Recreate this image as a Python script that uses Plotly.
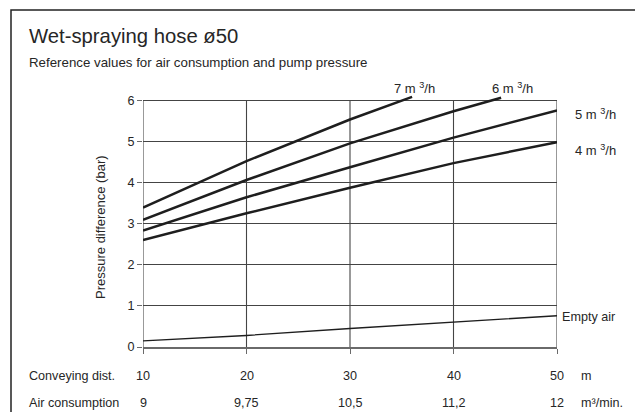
import plotly.graph_objects as go

# ---- data ----
dist_ticks = [10, 20, 30, 40, 50]
air_labels = ["9", "9,75", "10,5", "11,2", "12"]
y_ticks = [0, 1, 2, 3, 4, 5, 6]

x_7 = [10, 20, 30, 36]
y_7 = [3.39, 4.52, 5.53, 6.08]
x_6 = [10, 20, 30, 40, 44.6]
y_6 = [3.09, 4.06, 4.95, 5.73, 6.06]
x_5 = [10, 20, 30, 40, 50]
y_5 = [2.83, 3.64, 4.37, 5.09, 5.75]
x_4 = [10, 20, 30, 40, 50]
y_4 = [2.60, 3.25, 3.87, 4.47, 4.98]
x_air = [10, 20, 30, 40, 50]
y_air = [0.15, 0.28, 0.45, 0.60, 0.76]

series = [
    ("7 m <sup>3</sup>/h", x_7, y_7),
    ("6 m <sup>3</sup>/h", x_6, y_6),
    ("5 m <sup>3</sup>/h", x_5, y_5),
    ("4 m <sup>3</sup>/h", x_4, y_4),
]

# ---- layout geometry (pixels) ----
W, H = 635, 412
ML, MR, MT, MB = 143, 78, 94, 65
PW, PH = W - ML - MR, H - MT - MB


def px(x):
    return (x - ML) / PW


def py(y):
    return (H - MB - y) / PH


FONT = "Liberation Sans, Arial, sans-serif"
TXT = "#262626"
FS = 12.6

fig = go.Figure()
for name, xs, ys in series:
    fig.add_trace(go.Scatter(x=xs, y=ys, mode="lines", name=name,
                             line=dict(color="#1e1e1e", width=2.5),
                             showlegend=False, hoverinfo="skip"))
fig.add_trace(go.Scatter(x=x_air, y=y_air, mode="lines", name="Empty air",
                         line=dict(color="#1e1e1e", width=1.3),
                         showlegend=False, hoverinfo="skip"))

shapes = []
# vertical grid lines (clipped to 0..6)
for xv in dist_ticks:
    shapes.append(dict(type="line", xref="x", yref="y", x0=xv, x1=xv,
                       y0=0, y1=6, line=dict(color="#444444", width=1.1),
                       layer="below"))
# frame around chart
shapes.append(dict(type="rect", xref="paper", yref="paper",
                   x0=px(11), x1=px(645), y0=py(10), y1=py(420),
                   line=dict(color="#222222", width=1.5)))

annotations = []
annotations.append(dict(text="Wet-spraying hose ø50", xref="paper", yref="paper",
                        x=px(27), y=py(36), xanchor="left", yanchor="middle",
                        showarrow=False, font=dict(size=20.3, color=TXT, family=FONT)))
annotations.append(dict(text="Reference values for air consumption and pump pressure",
                        xref="paper", yref="paper", x=px(27), y=py(62),
                        xanchor="left", yanchor="middle", showarrow=False,
                        font=dict(size=13.3, color=TXT, family=FONT)))
annotations.append(dict(text="Pressure difference (bar)", xref="paper", yref="paper",
                        x=px(100), y=py(227), xanchor="center", yanchor="middle",
                        textangle=-90, showarrow=False,
                        font=dict(size=13, color=TXT, family=FONT)))

label_pos = [(392, 88), (490, 88), (573, 114), (573, 150)]
for (name, _, _), (lx, ly) in zip(series, label_pos):
    annotations.append(dict(text=name, xref="paper", yref="paper",
                            x=px(lx), y=py(ly), xanchor="left", yanchor="middle",
                            showarrow=False, font=dict(size=13, color=TXT, family=FONT)))
annotations.append(dict(text="Empty air", xref="paper", yref="paper",
                        x=px(560), y=py(317), xanchor="left", yanchor="middle",
                        showarrow=False, font=dict(size=FS, color=TXT, family=FONT)))

row1_y, row2_y = 376, 403
annotations.append(dict(text="Conveying dist.", xref="paper", yref="paper",
                        x=px(27), y=py(row1_y), xanchor="left", yanchor="middle",
                        showarrow=False, font=dict(size=FS, color=TXT, family=FONT)))
annotations.append(dict(text="Air consumption", xref="paper", yref="paper",
                        x=px(27), y=py(row2_y), xanchor="left", yanchor="middle",
                        showarrow=False, font=dict(size=FS, color=TXT, family=FONT)))
for xv, al in zip(dist_ticks, air_labels):
    annotations.append(dict(text=str(xv), xref="x", yref="paper", x=xv, y=py(row1_y),
                            xanchor="center", yanchor="middle", showarrow=False,
                            font=dict(size=FS, color=TXT, family=FONT)))
    annotations.append(dict(text=al, xref="x", yref="paper", x=xv, y=py(row2_y),
                            xanchor="center", yanchor="middle", showarrow=False,
                            font=dict(size=FS, color=TXT, family=FONT)))
annotations.append(dict(text="m", xref="paper", yref="paper",
                        x=px(579), y=py(row1_y), xanchor="left", yanchor="middle",
                        showarrow=False, font=dict(size=FS, color=TXT, family=FONT)))
annotations.append(dict(text="m³/min.", xref="paper", yref="paper",
                        x=px(579), y=py(row2_y), xanchor="left", yanchor="middle",
                        showarrow=False, font=dict(size=FS, color=TXT, family=FONT)))

fig.update_layout(
    width=W, height=H,
    margin=dict(l=ML, r=MR, t=MT, b=MB, pad=0),
    paper_bgcolor="white", plot_bgcolor="white",
    font=dict(family=FONT, size=FS, color=TXT),
    shapes=shapes, annotations=annotations,
    xaxis=dict(range=[10, 50], tickvals=dist_ticks, showticklabels=False,
               showgrid=False, zeroline=False, showline=True, linecolor="#6a6a6a",
               linewidth=1.5, ticks="outside", ticklen=5, tickcolor="#6a6a6a",
               fixedrange=True),
    yaxis=dict(range=[0, 6.15], tickvals=y_ticks, showgrid=True, gridcolor="#444444",
               gridwidth=1.1, zeroline=False, showline=False, ticks="outside",
               ticklen=5, tickcolor="#6a6a6a", tickfont=dict(size=FS, color=TXT),
               fixedrange=True),
    showlegend=False,
)

fig.write_html("out.html", config={"displayModeBar": False},
               post_script="document.body.style.margin='0';"
                           "document.body.style.overflow='hidden';")
